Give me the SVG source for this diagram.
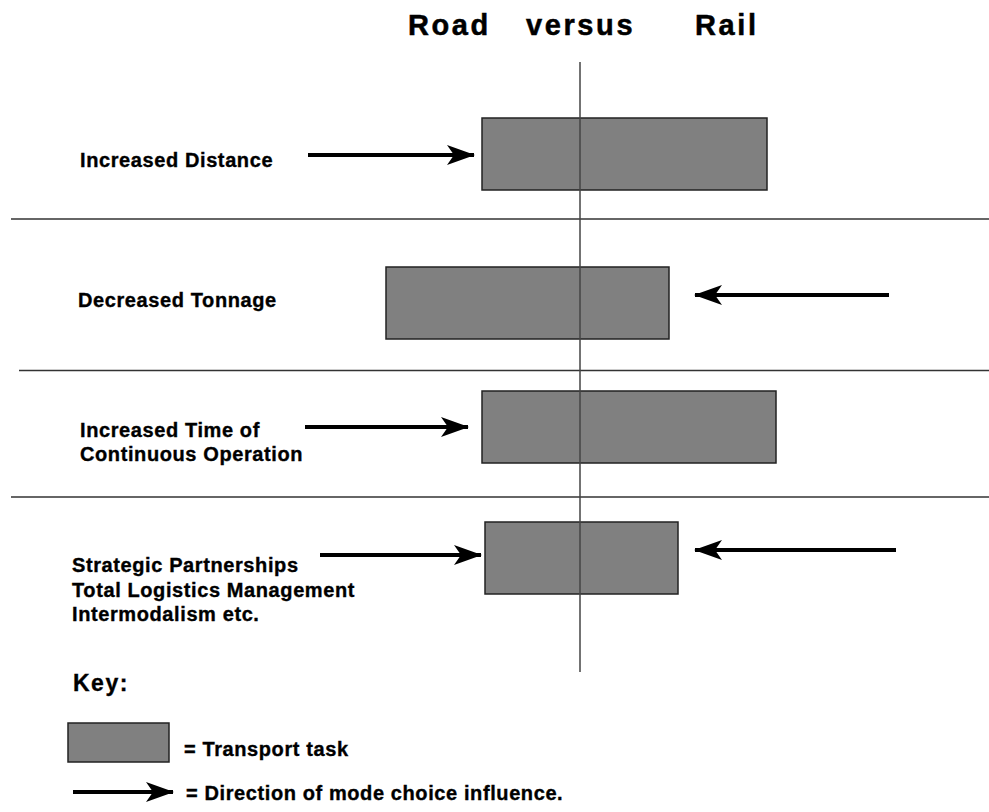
<svg xmlns="http://www.w3.org/2000/svg" width="989" height="812" viewBox="0 0 989 812">
<style>
.t{font-family:"Liberation Sans",Arial,sans-serif;font-weight:bold;font-size:20px;letter-spacing:0.6px;fill:#000;stroke:#000;stroke-width:0.35}
.title{font-family:"Liberation Sans",Arial,sans-serif;font-weight:bold;font-size:29px;letter-spacing:2.6px;fill:#000;stroke:#000;stroke-width:0.5}
.box{fill:#808080;stroke:#222;stroke-width:1.5}
.sep{stroke:#333;stroke-width:1.5;fill:none}
.arr{stroke:#000;stroke-width:4;fill:none;marker-end:url(#ah)}
</style>
<defs>
<marker id="ah" markerUnits="userSpaceOnUse" viewBox="0 0 28 20" refX="27" refY="10" markerWidth="28" markerHeight="20" orient="auto">
<path d="M0,0 L28,10 L0,20 L7,10 Z" fill="#000"/>
</marker>
</defs>
<rect width="989" height="812" fill="#fff"/>
<g id="title">
<text class="title" x="408" y="35">Road</text>
<text class="title" x="526" y="35">versus</text>
<text class="title" x="695" y="35">Rail</text>
</g>
<g id="separators">
<line class="sep" x1="11" y1="219" x2="989" y2="219"/>
<line class="sep" x1="19" y1="370.5" x2="989" y2="370.5"/>
<line class="sep" x1="11" y1="497" x2="989" y2="497"/>
</g>
<g id="task1"><rect class="box" x="482" y="118" width="285" height="72"/></g>
<g id="task2"><rect class="box" x="386" y="267" width="283" height="72"/></g>
<g id="task3"><rect class="box" x="482" y="391" width="294" height="72"/></g>
<g id="task4"><rect class="box" x="485" y="522" width="193" height="72"/></g>
<g id="axis"><line x1="580" y1="62" x2="580" y2="672" stroke="#444" stroke-width="1.5"/></g>
<g id="label1"><text class="t" x="80" y="167">Increased Distance</text></g>
<g id="label2"><text class="t" x="78" y="307">Decreased Tonnage</text></g>
<g id="label3"><text class="t" x="80" y="437">Increased Time of</text><text class="t" x="80" y="461">Continuous Operation</text></g>
<g id="label4"><text class="t" x="72" y="572">Strategic Partnerships</text><text class="t" x="72" y="597">Total Logistics Management</text><text class="t" x="72" y="621">Intermodalism etc.</text></g>
<g id="connectors">
<line class="arr" x1="308" y1="155" x2="474" y2="155"/>
<line class="arr" x1="889" y1="295" x2="695" y2="295"/>
<line class="arr" x1="305" y1="427" x2="468" y2="427"/>
<line class="arr" x1="320" y1="555" x2="481" y2="555"/>
<line class="arr" x1="896" y1="550" x2="695" y2="550"/>
</g>
<g id="key">
<text class="t" x="73" y="691" style="font-size:23px;letter-spacing:1.5px">Key:</text>
<rect class="box" x="68" y="723" width="101" height="39"/>
<text class="t" x="184" y="756">= Transport task</text>
<line class="arr" x1="73" y1="792" x2="173" y2="792"/>
<text class="t" x="186" y="800">= Direction of mode choice influence.</text>
</g>
</svg>
